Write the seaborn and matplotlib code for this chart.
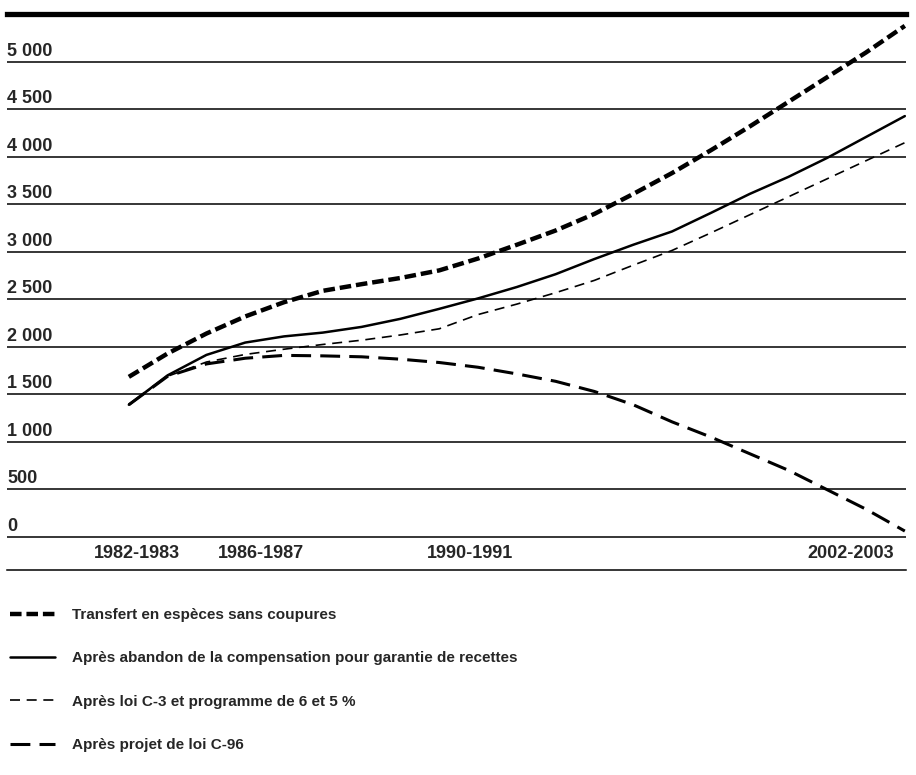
import numpy as np
import pandas as pd
import matplotlib
matplotlib.use('Agg')
import matplotlib.pyplot as plt
import matplotlib.transforms as mtransforms
import seaborn as sns

# 数据
annees = list(range(1982, 2003))
transfert = [1684, 1930, 2140, 2320, 2470, 2590, 2660, 2725, 2805, 2930, 3075,
             3225, 3400, 3610, 3830, 4070, 4320, 4580, 4840, 5100, 5380]
abandon = [1390, 1700, 1915, 2045, 2110, 2150, 2210, 2295, 2400, 2510, 2630,
           2765, 2925, 3075, 3215, 3410, 3610, 3790, 3990, 4210, 4430]
loi_c3 = [1390, 1690, 1840, 1920, 1975, 2025, 2070, 2125, 2190, 2340, 2450,
          2570, 2700, 2860, 3015, 3200, 3390, 3580, 3770, 3960, 4150]
loi_c96 = [1390, 1690, 1820, 1880, 1910, 1905, 1895, 1870, 1835, 1785, 1715,
           1637, 1530, 1390, 1210, 1050, 875, 700, 495, 290, 60]

series = {
    'Transfert en espèces sans coupures': transfert,
    'Après abandon de la compensation pour garantie de recettes': abandon,
    'Après loi C-3 et programme de 6 et 5 %': loi_c3,
    'Après projet de loi C-96': loi_c96,
}

y_ticks = [0, 500, 1000, 1500, 2000, 2500, 3000, 3500, 4000, 4500, 5000]
y_labels = ['0', '500', '1 000', '1 500', '2 000', '2 500', '3 000',
            '3 500', '4 000', '4 500', '5 000']
x_tick_pos = [1982.2, 1985.4, 1990.8, 2000.6]
x_labels = ['1982-1983', '1986-1987', '1990-1991', '2002-2003']

# styles: (largeur, tirets)
styles = [
    (3.2, (0, (2.6, 1.1))),
    (1.8, '-'),
    (1.2, (0, (6, 4))),
    (2.2, (0, (6.5, 3))),
]

sns.set_theme(style='white')
plt.rcParams['font.family'] = ['Liberation Sans Narrow', 'Liberation Sans', 'DejaVu Sans']

fig = plt.figure(figsize=(9.16, 7.75), dpi=100)
W, H = 916, 775
ax = fig.add_axes([7 / W, 1 - 570 / H, (906 - 7) / W, (570 - 14) / H])

for (nom, vals), (lw, ls) in zip(series.items(), styles):
    sns.lineplot(x=annees, y=vals, ax=ax, color='black', linewidth=lw,
                 linestyle=ls, label=nom)

ax.set_xlim(1978.86, 2002.03)
ax.set_ylim(-350, 5505)

# grille horizontale
for v in y_ticks:
    ax.axhline(v, color='black', linewidth=1.1, zorder=0)

for s in ['left', 'right']:
    ax.spines[s].set_visible(False)
ax.spines['top'].set_linewidth(3.8)
ax.spines['top'].set_color('black')
ax.spines['bottom'].set_linewidth(1.1)
ax.spines['bottom'].set_color('black')

ax.set_yticks(y_ticks)
ax.set_yticklabels(y_labels, fontsize=13, fontweight='bold')
ax.tick_params(axis='y', length=0, pad=0)
off_y = mtransforms.ScaledTranslation(0, 1.5 / 72, fig.dpi_scale_trans)
for lab in ax.get_yticklabels():
    lab.set_ha('left')
    lab.set_va('bottom')
    lab.set_transform(lab.get_transform() + off_y)

ax.set_xticks(x_tick_pos)
ax.set_xticklabels(x_labels, fontsize=13, fontweight='bold')
ax.tick_params(axis='x', length=0, pad=-12.2)
for lab in ax.get_xticklabels():
    lab.set_va('center')

ax.set_xlabel('')
ax.set_ylabel('')

handles, labels = ax.get_legend_handles_labels()
ax.get_legend().remove()
fig.legend(handles, labels, loc='upper left', bbox_to_anchor=(10 / W, 1 - 608 / H),
           frameon=False, prop={'weight': 'bold', 'size': 11},
           borderpad=0, borderaxespad=0, handlelength=2.95, handletextpad=1.1,
           labelspacing=1.92)

fig.savefig('out.png', dpi=100)
